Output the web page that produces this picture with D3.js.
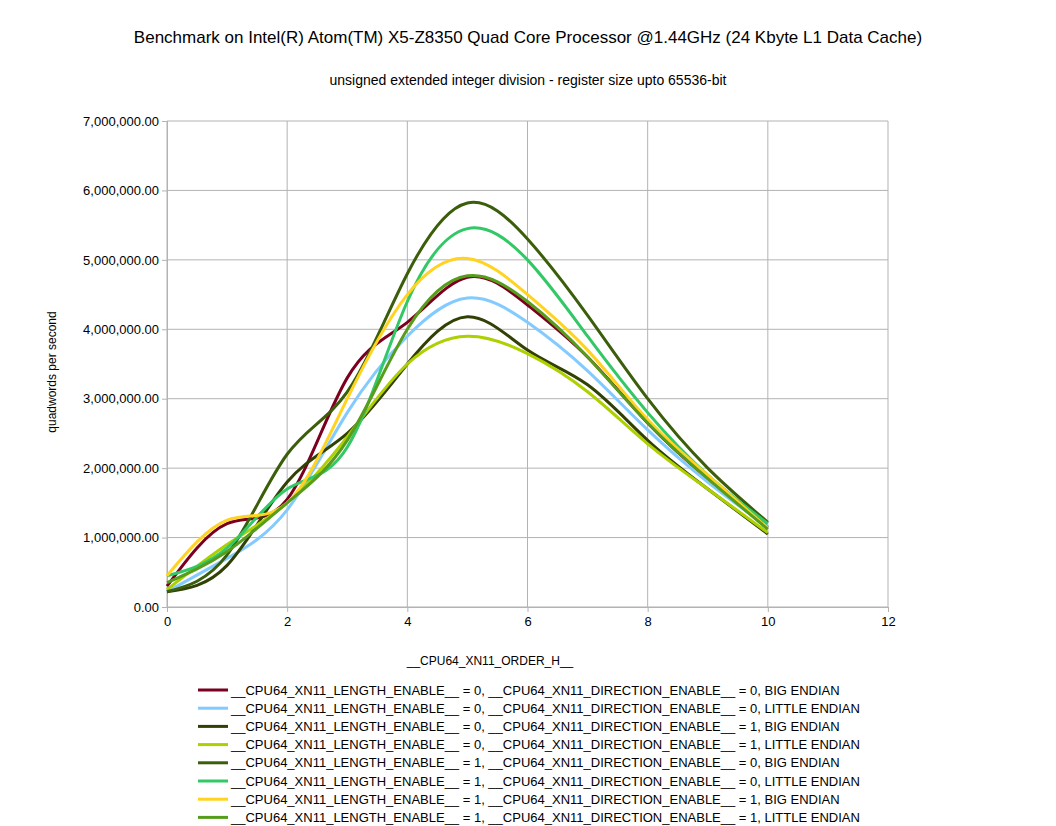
<!DOCTYPE html><html><head><meta charset="utf-8"><script src="https://cdn.jsdelivr.net/npm/d3@7"></script>
<style>body{margin:0;background:#fff}text{font-family:"Liberation Sans",Arial,sans-serif}</style></head><body><svg id="c" width="1056" height="826"></svg>
<script>
const xs=[0,1,2,3,4,5,6,7,8,9,10];
const names=["__CPU64_XN11_LENGTH_ENABLE__ = 0, __CPU64_XN11_DIRECTION_ENABLE__ = 0, BIG ENDIAN","__CPU64_XN11_LENGTH_ENABLE__ = 0, __CPU64_XN11_DIRECTION_ENABLE__ = 0, LITTLE ENDIAN","__CPU64_XN11_LENGTH_ENABLE__ = 0, __CPU64_XN11_DIRECTION_ENABLE__ = 1, BIG ENDIAN","__CPU64_XN11_LENGTH_ENABLE__ = 0, __CPU64_XN11_DIRECTION_ENABLE__ = 1, LITTLE ENDIAN","__CPU64_XN11_LENGTH_ENABLE__ = 1, __CPU64_XN11_DIRECTION_ENABLE__ = 0, BIG ENDIAN","__CPU64_XN11_LENGTH_ENABLE__ = 1, __CPU64_XN11_DIRECTION_ENABLE__ = 0, LITTLE ENDIAN","__CPU64_XN11_LENGTH_ENABLE__ = 1, __CPU64_XN11_DIRECTION_ENABLE__ = 1, BIG ENDIAN","__CPU64_XN11_LENGTH_ENABLE__ = 1, __CPU64_XN11_DIRECTION_ENABLE__ = 1, LITTLE ENDIAN"];
const colors=["#7b0020","#83caff","#314004","#aecf00","#3b5e0b","#33c866","#ffd320","#579d1c"];
const s1=[0.30,1.20,1.55,3.30,4.10,4.75,4.35,3.60,2.65,1.85,1.15];
const s2=[0.22,0.70,1.40,2.80,3.90,4.45,4.10,3.40,2.55,1.80,1.15];
const s3=[0.22,0.60,1.80,2.50,3.50,4.18,3.70,3.20,2.40,1.70,1.05];
const s4=[0.25,0.90,1.50,2.45,3.50,3.90,3.65,3.10,2.35,1.70,1.07];
const s5=[0.22,0.75,2.20,3.10,4.80,5.82,5.30,4.20,3.00,2.00,1.22];
const s6=[0.45,0.85,1.70,2.30,4.40,5.45,5.00,3.90,2.80,1.90,1.20];
const s7=[0.45,1.25,1.50,3.00,4.50,5.02,4.50,3.70,2.70,1.90,1.13];
const s8=[0.35,0.80,1.50,2.40,4.00,4.77,4.40,3.60,2.65,1.85,1.12];
const series=[s1,s2,s3,s4,s5,s6,s7,s8];
const svg=d3.select("#c");
const x=d3.scaleLinear().domain([0,12]).range([167,888]);
const y=d3.scaleLinear().domain([0,7e6]).range([607,121]);
const g=svg.append("g");
x.ticks(6).forEach(t=>g.append("line").attr("x1",x(t)).attr("x2",x(t)).attr("y1",121).attr("y2",607).attr("stroke","#b3b3b3"));
y.ticks(7).forEach(t=>g.append("line").attr("x1",167).attr("x2",888).attr("y1",y(t)).attr("y2",y(t)).attr("stroke","#b3b3b3"));
const fmt=d3.format(",.2f");
svg.append("g").attr("transform","translate(167,0)").call(d3.axisLeft(y).ticks(7).tickFormat(fmt).tickSize(5).tickPadding(3)).call(a=>{a.select(".domain").attr("stroke","#b3b3b3");a.selectAll("line").attr("stroke","#b3b3b3");a.selectAll("text").attr("font-size",13).attr("fill","#000").attr("font-family","Liberation Sans")});
svg.append("g").attr("transform","translate(0,607)").call(d3.axisBottom(x).ticks(6).tickSize(5).tickPadding(5)).call(a=>{a.select(".domain").attr("stroke","#b3b3b3");a.selectAll("line").attr("stroke","#b3b3b3");a.selectAll("text").attr("font-size",13).attr("fill","#000").attr("font-family","Liberation Sans")});
const line=d3.line().x((d,i)=>x(xs[i])).y(d=>y(d*1e6)).curve(d3.curveNatural);
series.forEach((s,i)=>svg.append("path").attr("d",line(s)).attr("fill","none").attr("stroke",colors[i]).attr("stroke-width",3));
svg.append("text").attr("x",528).attr("y",43).attr("text-anchor","middle").attr("font-size",17).text("Benchmark on Intel(R) Atom(TM) X5-Z8350 Quad Core Processor @1.44GHz (24 Kbyte L1 Data Cache)");
svg.append("text").attr("x",528).attr("y",85).attr("text-anchor","middle").attr("font-size",14).text("unsigned extended integer division - register size upto 65536-bit");
svg.append("text").attr("transform","translate(56,372) rotate(-90)").attr("text-anchor","middle").attr("font-size",12).text("quadwords per second");
svg.append("text").attr("x",490).attr("y",665).attr("text-anchor","middle").attr("font-size",12).text("__CPU64_XN11_ORDER_H__");
names.forEach((n,i)=>{const yy=690+i*18.2;svg.append("line").attr("x1",198).attr("x2",228).attr("y1",yy).attr("y2",yy).attr("stroke",colors[i]).attr("stroke-width",3);svg.append("text").attr("x",231).attr("y",yy+4.5).attr("font-size",13).text(n);});
</script></body></html>
